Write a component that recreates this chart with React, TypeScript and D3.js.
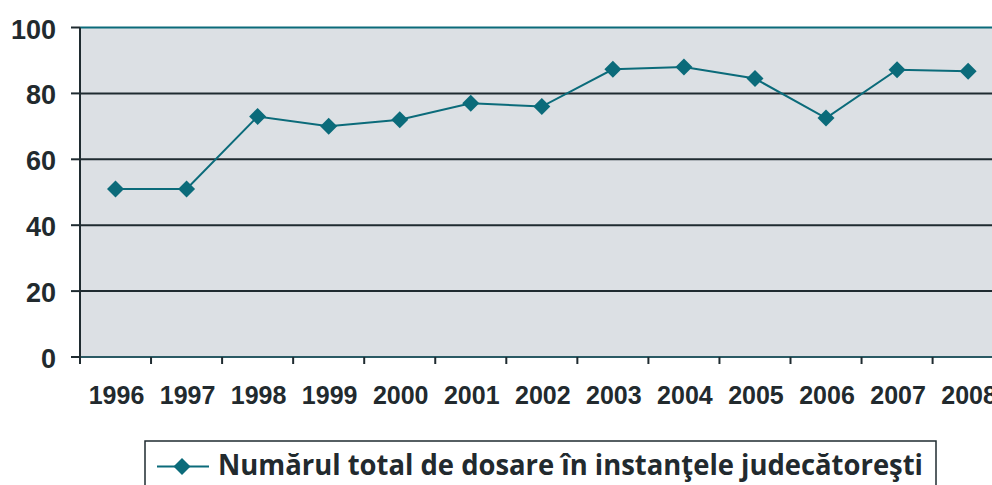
import React from "react";
import * as d3 from "d3";

const years = ["1996", "1997", "1998", "1999", "2000", "2001", "2002", "2003", "2004", "2005", "2006", "2007", "2008"];
const cases = [51, 51, 73, 70, 72, 77, 76, 87.3, 88, 84.5, 72.5, 87.2, 86.7];
const yTicks = [0, 20, 40, 60, 80, 100];
const seriesName = "Numărul total de dosare în instanţele judecătoreşti";

const W = 992;
const H = 485;
const left = 80;
const top = 27.5;
const bottom = 357;
const right = left + 13 * 71.05;

const TEAL = "#0b6b7a";
const GRID = "#1f2b30";
const TEXT = "#222a2e";

export default function App() {
  const x = d3.scaleBand<string>().domain(years).range([left, right]).padding(0);
  const y = d3.scaleLinear().domain([0, 100]).range([bottom, top]);
  const cx = (d: string) => (x(d) ?? 0) + x.bandwidth() / 2;

  const line = d3
    .line<number>()
    .x((_, i) => cx(years[i]))
    .y((v) => y(v));

  const diamond = (px: number, py: number, r: number) =>
    `M${px},${py - r}L${px + r},${py}L${px},${py + r}L${px - r},${py}Z`;

  return (
    <svg
      width={W}
      height={H}
      style={{ position: "absolute", left: 0, top: 0, background: "#fff" }}
    >
      <rect x={left} y={top} width={right - left} height={bottom - top} fill="#dce0e4" />
      {yTicks.map((t) => (
        <g key={t}>
          {t > 0 && t < 100 && (
            <line x1={left} x2={right} y1={y(t)} y2={y(t)} stroke={GRID} strokeWidth={2} />
          )}
          <line x1={left - 9} x2={left} y1={y(t)} y2={y(t)} stroke={GRID} strokeWidth={2} />
          <text
            x={56}
            y={y(t) + 11}
            textAnchor="end"
            fontFamily="'Liberation Sans', Arial, sans-serif"
            fontWeight="bold"
            fontSize={27}
            fill={TEXT}
          >
            {t}
          </text>
        </g>
      ))}
      <line x1={left} x2={right} y1={y(100)} y2={y(100)} stroke={TEAL} strokeWidth={2} />
      <line x1={left} x2={right} y1={bottom} y2={bottom} stroke="#2a5a64" strokeWidth={2} />
      <line x1={left} x2={left} y1={top} y2={bottom + 7} stroke={GRID} strokeWidth={2} />
      {years.map((yr, i) => (
        <g key={yr}>
          {i > 0 && (
            <line
              x1={x(yr)}
              x2={x(yr)}
              y1={bottom}
              y2={bottom + 7}
              stroke={GRID}
              strokeWidth={2}
            />
          )}
          <text
            x={cx(yr) + 1}
            y={404}
            textAnchor="middle"
            fontFamily="'Liberation Sans', Arial, sans-serif"
            fontWeight="bold"
            fontSize={25}
            fill={TEXT}
          >
            {yr}
          </text>
        </g>
      ))}
      <path d={line(cases) ?? ""} fill="none" stroke={TEAL} strokeWidth={2} />
      {cases.map((v, i) => (
        <path key={i} d={diamond(cx(years[i]), y(v), 8.5)} fill={TEAL} />
      ))}
      <rect x={145} y={441} width={791} height={60} fill="#fff" stroke={GRID} strokeWidth={1.5} />
      <line x1={157} x2={209} y1={466.5} y2={466.5} stroke={TEAL} strokeWidth={2} />
      <path d={diamond(182, 466.5, 8.5)} fill={TEAL} />
      <text
        x={218}
        y={475}
        fontFamily="'Open Sans', 'DejaVu Sans', sans-serif"
        fontWeight="bold"
        fontSize={28}
        fill={TEXT}
        textLength={705}
        lengthAdjust="spacingAndGlyphs"
      >
        {seriesName}
      </text>
    </svg>
  );
}
